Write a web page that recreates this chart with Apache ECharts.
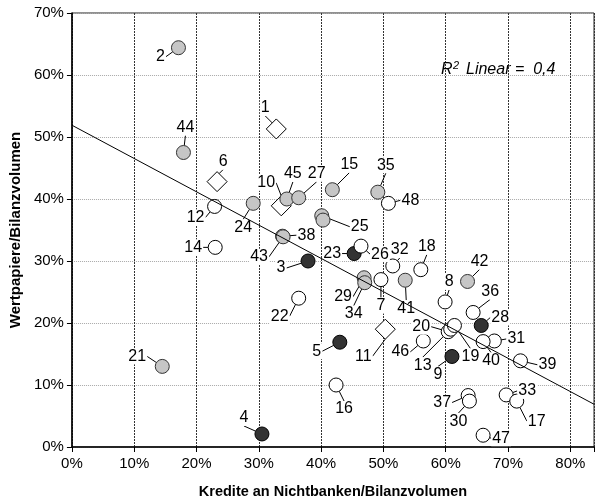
<!DOCTYPE html>
<html><head><meta charset="utf-8">
<script src="https://cdn.jsdelivr.net/npm/echarts@6/dist/echarts.min.js"></script>
<style>html,body{margin:0;padding:0;background:#fff}#c{width:597px;height:504px}</style>
</head><body><div id="c"></div>
<script>
// ---- data (fractions) ----
const xTicks = [0, 0.1, 0.2, 0.3, 0.4, 0.5, 0.6, 0.7, 0.8];
const yTicks = [0, 0.1, 0.2, 0.3, 0.4, 0.5, 0.6, 0.7];

const diamondIds = [1, 6, 10, 11];
const diamondX = [0.328, 0.233, 0.336, 0.503];
const diamondY = [0.513, 0.428, 0.389, 0.190];

const grayIds = [2, 44, 24, 45, 38, 43, 27, 15, 35, 25, null, 29, 34, 41, 42, 21];
const grayX = [0.171, 0.179, 0.291, 0.345, 0.338, 0.339, 0.364, 0.418, 0.491, 0.401, 0.403, 0.469, 0.470, 0.535, 0.635, 0.145];
const grayY = [0.644, 0.475, 0.393, 0.400, 0.340, 0.339, 0.402, 0.415, 0.411, 0.373, 0.366, 0.273, 0.265, 0.269, 0.267, 0.130];

const darkIds = [3, 23, 5, 9, 28, 4];
const darkX = [0.379, 0.453, 0.430, 0.610, 0.657, 0.305];
const darkY = [0.300, 0.312, 0.169, 0.146, 0.196, 0.021];

const whiteIds = [12, 14, 22, 48, 26, 7, 32, 18, 8, 36, 20, 13, 19, 46, 31, 40, 39, 16, 37, 30, 33, 17, 47];
const whiteX = [0.229, 0.230, 0.364, 0.508, 0.464, 0.496, 0.515, 0.560, 0.599, 0.644, 0.604, 0.608, 0.614, 0.564, 0.678, 0.660, 0.720, 0.424, 0.636, 0.638, 0.697, 0.714, 0.660];
const whiteY = [0.388, 0.322, 0.240, 0.393, 0.324, 0.270, 0.292, 0.286, 0.234, 0.217, 0.186, 0.190, 0.196, 0.171, 0.171, 0.170, 0.139, 0.100, 0.083, 0.074, 0.084, 0.074, 0.019];

// fitted line
const fitX = [0, 0.838];
const fitY = [0.519, 0.069];

// label offsets (px) relative to marker centre
const labelOffsets = {
  1:[-11,-21], 2:[-18,9], 3:[-27,7], 4:[-18,-16], 5:[-23,9], 6:[6,-20], 7:[0,26], 8:[4,-20],
  9:[-14,18], 10:[-15,-23], 11:[-22,27], 12:[-19,11], 13:[-28,36], 14:[-22,0], 15:[17,-25],
  16:[8,24], 17:[20,20], 18:[6,-23], 19:[16,31], 20:[-27,-5], 21:[-25,-10], 22:[-19,18],
  23:[-22,0], 24:[-10,24], 25:[38,11], 26:[19,8], 27:[18,-24], 28:[19,-8], 29:[-21,19],
  30:[-11,20], 31:[22,-2], 32:[7,-16], 33:[21,-4], 34:[-11,31], 35:[8,-27], 36:[17,-21],
  37:[-26,7], 38:[24,-1], 39:[27,4], 40:[8,19], 41:[1,28], 42:[12,-20], 43:[-24,20],
  44:[2,-25], 45:[6,-25], 46:[-23,11], 47:[18,3], 48:[22,-3]
};

const FONT = "'Liberation Sans', Arial, sans-serif";
const seriesIds = [diamondIds, grayIds, darkIds, whiteIds];

function mk(ids, xs, ys) {
  return ids.map((id, i) => ({
    value: [xs[i], ys[i]],
    name: id == null ? '' : String(id),
    label: { show: id != null },
    labelLine: { show: id != null }
  }));
}

function scatter(ids, xs, ys, symbol, size, fill, border) {
  return {
    type: 'scatter', z: 2,
    symbol: symbol, symbolSize: size,
    data: mk(ids, xs, ys),
    itemStyle: { color: fill, borderColor: border, borderWidth: 1, opacity: 1 },
    label: {
      show: true, position: 'inside', formatter: p => p.name,
      fontFamily: FONT, fontSize: 16, color: '#000',
      backgroundColor: '#fff', padding: [0, 1], lineHeight: 16
    },
    labelLine: { show: true, length2: 0, lineStyle: { color: '#000', width: 1 } },
    labelLayout: function (params) {
      const id = seriesIds[params.seriesIndex][params.dataIndex];
      const o = labelOffsets[id] || [0, 0];
      return { dx: o[0], dy: o[1] };
    },
    emphasis: { disabled: true },
    animation: false
  };
}

const fmtPct = v => {
  const r = Math.round(v * 10);
  return Math.abs(v * 10 - r) < 1e-6 ? (r * 10) + '%' : '';
};

const chart = echarts.init(document.getElementById('c'), null, { renderer: 'canvas' });
chart.setOption({
  animation: false,
  backgroundColor: '#fff',
  grid: { left: 70.5, right: 0, top: 13, bottom: 54.7, show: true, borderColor: '#222', borderWidth: 1, backgroundColor: 'transparent' },
  xAxis: {
    type: 'value', min: xTicks[0], max: 0.838, interval: 0.1,
    name: 'Kredite an Nichtbanken/Bilanzvolumen', nameLocation: 'middle', nameGap: 37,
    nameTextStyle: { fontFamily: FONT, fontWeight: 'bold', fontSize: 14.5, color: '#000' },
    axisLine: { show: true, lineStyle: { color: '#000', width: 1.5 } },
    axisTick: { show: true, length: 5, lineStyle: { color: '#000' } },
    axisLabel: { formatter: fmtPct, fontFamily: FONT, fontSize: 15, color: '#000', margin: 9 },
    splitLine: { show: true, lineStyle: { color: '#333', type: [2, 1], width: 1 } }
  },
  yAxis: {
    type: 'value', min: yTicks[0], max: yTicks[yTicks.length - 1], interval: 0.1,
    name: 'Wertpapiere/Bilanzvolumen', nameLocation: 'middle', nameGap: 46, nameRotate: 90,
    nameTextStyle: { fontFamily: FONT, fontWeight: 'bold', fontSize: 15, color: '#000' },
    axisLine: { show: true, lineStyle: { color: '#000', width: 1.5 } },
    axisTick: { show: true, length: 5, lineStyle: { color: '#000' } },
    axisLabel: { formatter: fmtPct, fontFamily: FONT, fontSize: 15, color: '#000', margin: 8 },
    splitLine: { show: true, lineStyle: { color: '#a8a8a8', type: [1, 1], width: 1 } }
  },
  graphic: [
    { type: 'text', left: 441, top: 62, silent: true, z: 10,
      style: { text: 'R', font: "italic 16px 'Liberation Sans', Arial, sans-serif", fill: '#000' } },
    { type: 'text', left: 453, top: 60, silent: true, z: 10,
      style: { text: '2', font: "italic 11px 'Liberation Sans', Arial, sans-serif", fill: '#000' } },
    { type: 'text', left: 466, top: 62, silent: true, z: 10,
      style: { text: 'Linear =  0,4', font: "italic 16px 'Liberation Sans', Arial, sans-serif", fill: '#000' } }
  ],
  series: [
    scatter(diamondIds, diamondX, diamondY, 'diamond', 20, '#fff', '#000'),
    scatter(grayIds, grayX, grayY, 'circle', 14, '#c6c6c6', '#333'),
    scatter(darkIds, darkX, darkY, 'circle', 14, '#333333', '#000'),
    scatter(whiteIds, whiteX, whiteY, 'circle', 14, '#fff', '#000'),
    {
      type: 'line', z: 3, symbol: 'none', silent: true,
      data: fitX.map((x, i) => [x, fitY[i]]),
      lineStyle: { color: '#000', width: 1 },
      animation: false
    }
  ]
});
</script>
</body></html>
